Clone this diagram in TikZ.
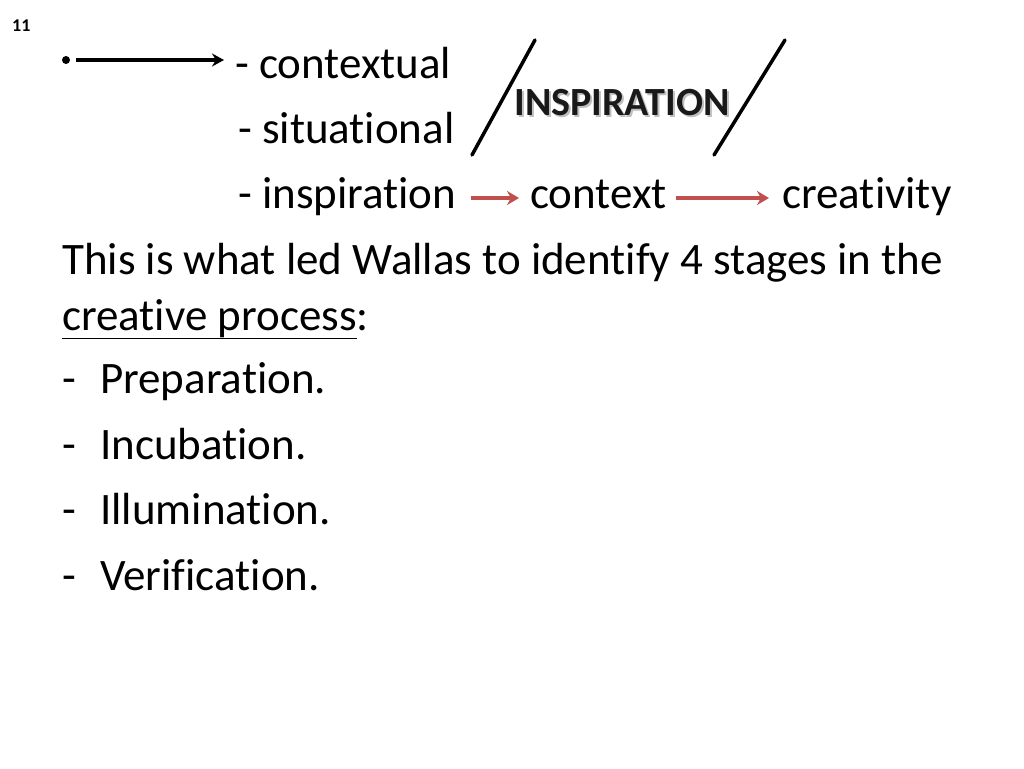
\documentclass[tikz,border=0pt]{standalone}
\usepackage{fontspec}
\setmainfont[Ligatures=NoCommon]{Carlito}
\usetikzlibrary{positioning}
\usetikzlibrary{arrows.meta}
\definecolor{arrowred}{RGB}{192,80,77}
\tikzset{
  txt/.style={anchor=base west, inner sep=0pt, font=\fontsize{45}{52}\selectfont},
  redarrow/.style={draw=arrowred, line width=4pt, -{Stealth[length=12pt,width=14pt]}},
  slash/.style={line width=3.5pt, line cap=round}
}
\begin{document}
\begin{tikzpicture}[x=1pt,y=-1pt]
  \useasboundingbox (0,0) rectangle (1024,768);
  \node[anchor=base west, inner sep=0pt, font=\bfseries\fontsize{18}{20}\selectfont] (num) at (12,32) {11};
  % first block
  \fill (66,60) circle (4pt);
  \coordinate (arrs) at (76,60);
  \coordinate (arre) at (224,60);
  \draw[line width=3pt, -{Stealth[length=12pt,width=13pt]}] (arrs) -- (arre);
  \node[txt] (ctx) at (235,78) {- contextual};
  \node[txt] (sit) at (238,143) {- situational};
  \node[txt] (insp) at (238,208) {- inspiration};
  \node[txt] (cont) at (530,208) {context};
  \node[txt] (crea) at (782,208) {creativity};
  \coordinate (r1s) at (471,198);
  \coordinate (r1e) at (519,198);
  \coordinate (r2s) at (676,198);
  \coordinate (r2e) at (769,198);
  \draw[redarrow] (r1s) -- (r1e);
  \draw[redarrow] (r2s) -- (r2e);
  % slashes and label
  \coordinate (s1a) at (472,155);
  \coordinate (s1b) at (535,40);
  \coordinate (s2a) at (714,155);
  \coordinate (s2b) at (785,40);
  \draw[slash] (s1a) -- (s1b);
  \draw[slash] (s2a) -- (s2b);
  \node[anchor=base, inner sep=0pt, font=\bfseries\fontsize{40}{44}\selectfont, text=gray!50] at (624,117) {INSPIRATION};
  \node[anchor=base, inner sep=0pt, font=\bfseries\fontsize{40}{44}\selectfont, text=black!90] (ilab) at (622,115) {INSPIRATION};
  % second block
  \node[txt] (wal) at (62,274) {This is what led Wallas to identify 4 stages in the};
  \node[txt] (proc) at (62,330) {\underline{creative process}:};
  \foreach \t [count=\i] in {Preparation., Incubation., Illumination., Verification.}
    {\node[txt] (d\i) at (62,{328+\i*65.5}) {-};
     \node[txt] (st\i) at (100,{328+\i*65.5}) {\t};}
\end{tikzpicture}
\end{document}
